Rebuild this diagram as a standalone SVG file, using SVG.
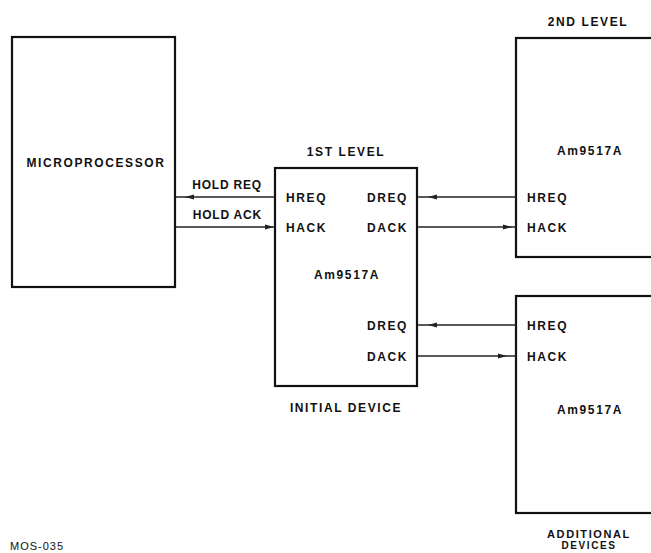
<svg xmlns="http://www.w3.org/2000/svg" width="651" height="553" viewBox="0 0 651 553">
<defs>
<style>
.box{fill:none;stroke:#111;stroke-width:2.2}
.ln{fill:none;stroke:#222;stroke-width:1.3}
.ah{fill:#222}
text{font-family:"Liberation Sans",Arial,sans-serif;font-size:12px;font-weight:bold;fill:#111;letter-spacing:1.6px}
.m{text-anchor:middle}
.e{text-anchor:end}
</style>
</defs>
<rect width="651" height="553" fill="#fff"/>
<g id="microprocessor">
<rect class="box" x="12" y="37" width="163" height="250"/>
<text x="96" y="167" class="m">MICROPROCESSOR</text>
</g>
<g id="first-level">
<rect class="box" x="275" y="168" width="142" height="218"/>
<text x="346" y="156" class="m">1ST LEVEL</text>
<text x="286" y="202">HREQ</text>
<text x="286" y="232">HACK</text>
<text x="408" y="202" class="e">DREQ</text>
<text x="408" y="232" class="e">DACK</text>
<text x="347" y="279" class="m">Am9517A</text>
<text x="408" y="330" class="e">DREQ</text>
<text x="408" y="361" class="e">DACK</text>
<text x="346" y="412" class="m">INITIAL DEVICE</text>
</g>
<g id="second-level">
<rect class="box" x="516" y="38" width="150" height="219"/>
<text x="588" y="26" class="m">2ND LEVEL</text>
<text x="590" y="155" class="m">Am9517A</text>
<text x="527" y="202">HREQ</text>
<text x="527" y="232">HACK</text>
</g>
<g id="additional-devices">
<rect class="box" x="516" y="296" width="150" height="217"/>
<text x="527" y="330">HREQ</text>
<text x="527" y="361">HACK</text>
<text x="590" y="414" class="m">Am9517A</text>
<text x="589" y="538" class="m" style="font-size:11px">ADDITIONAL</text>
<text x="589" y="549" class="m" style="font-size:10px">DEVICES</text>
</g>
<g id="footnote">
<text x="10" y="550" style="font-weight:normal;font-size:11px;letter-spacing:1px">MOS-035</text>
</g>
<g id="connectors">
<text x="262" y="189" class="e" style="letter-spacing:0.8px">HOLD REQ</text>
<text x="262" y="219" class="e" style="letter-spacing:0.8px">HOLD ACK</text>
<line class="ln" x1="275" y1="197" x2="176" y2="197"/>
<path class="ah" d="M185,197 l9,-2.6 v5.2 Z"/>
<line class="ln" x1="176" y1="227" x2="275" y2="227"/>
<path class="ah" d="M274,227 l-9,-2.6 v5.2 Z"/>
<line class="ln" x1="516" y1="197" x2="418" y2="197"/>
<path class="ah" d="M428,197 l9,-2.6 v5.2 Z"/>
<line class="ln" x1="418" y1="227" x2="516" y2="227"/>
<path class="ah" d="M512,227 l-9,-2.6 v5.2 Z"/>
<line class="ln" x1="516" y1="325" x2="418" y2="325"/>
<path class="ah" d="M428,325 l9,-2.6 v5.2 Z"/>
<line class="ln" x1="418" y1="356" x2="516" y2="356"/>
<path class="ah" d="M507,356 l-9,-2.6 v5.2 Z"/>
</g>
</svg>
